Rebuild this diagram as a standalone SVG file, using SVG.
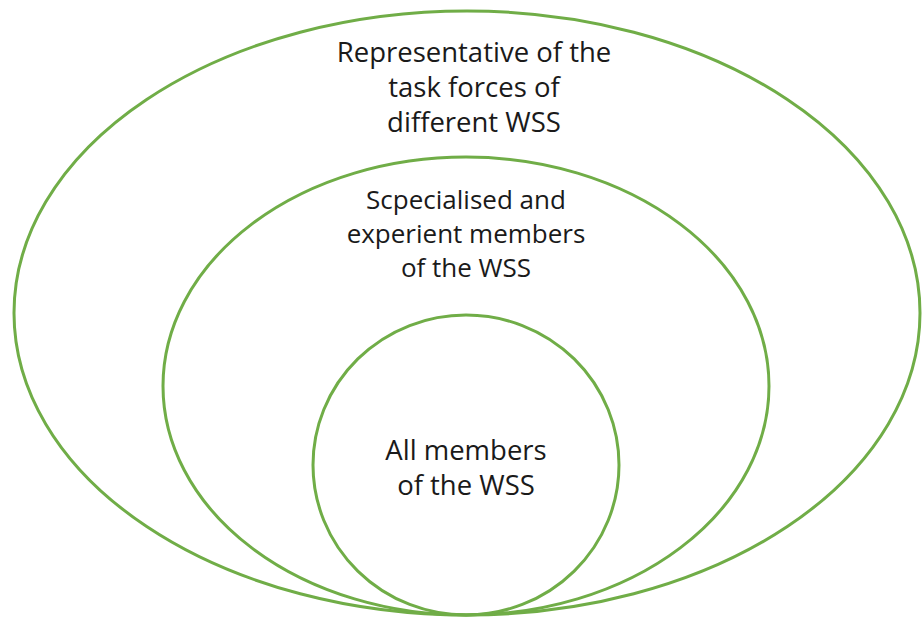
<svg xmlns="http://www.w3.org/2000/svg" width="922" height="618" viewBox="0 0 922 618">
<style>
.ring{fill:none;stroke:#70AD47;stroke-width:3}
.t{font-family:"Open Sans","Liberation Sans",sans-serif;fill:#1a1a1a;text-anchor:middle}
.big{font-size:27.5px}
.mid{font-size:26px}
</style>
<rect width="922" height="618" fill="#fff"/>
<g id="outer">
<ellipse class="ring" cx="467" cy="313" rx="453" ry="302"/>
<text class="t big" x="474" y="62">Representative of the</text>
<text class="t big" x="474" y="97">task forces of</text>
<text class="t big" x="474" y="132">different WSS</text>
</g>
<g id="middle">
<ellipse class="ring" cx="466" cy="386" rx="303" ry="229"/>
<text class="t mid" x="466" y="209">Scpecialised and</text>
<text class="t mid" x="466" y="243">experient members</text>
<text class="t mid" x="466" y="277">of the WSS</text>
</g>
<g id="inner">
<ellipse class="ring" cx="466" cy="465" rx="153" ry="150"/>
<text class="t big" x="466" y="460">All members</text>
<text class="t big" x="466" y="495">of the WSS</text>
</g>
<g id="connectors"/>
</svg>
